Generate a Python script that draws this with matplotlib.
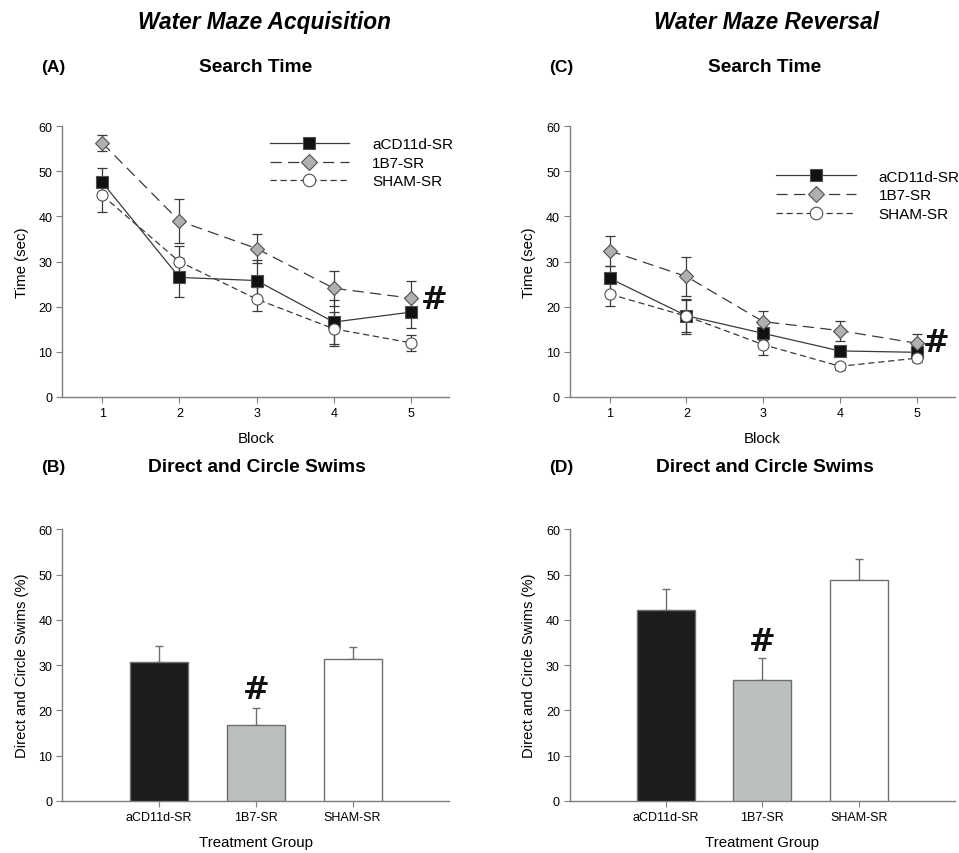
import numpy as np
import matplotlib
matplotlib.use("Agg")
import matplotlib.pyplot as plt
from matplotlib.lines import Line2D

plt.rcParams["font.family"] = ["Liberation Sans", "DejaVu Sans"]

blocks = [1, 2, 3, 4, 5]
groups = ["aCD11d-SR", "1B7-SR", "SHAM-SR"]

# search time (sec), acquisition
acq_mean = {
    "aCD11d-SR": [47.6, 26.5, 25.8, 16.6, 18.8],
    "1B7-SR": [56.3, 39.0, 32.9, 24.1, 21.9],
    "SHAM-SR": [44.7, 30.0, 21.7, 15.1, 12.0],
}
acq_err = {
    "aCD11d-SR": [3.2, 4.4, 4.5, 4.8, 3.6],
    "1B7-SR": [1.7, 4.8, 3.3, 3.9, 3.7],
    "SHAM-SR": [3.8, 3.5, 2.6, 3.7, 1.8],
}

# search time (sec), reversal
rev_mean = {
    "aCD11d-SR": [26.3, 18.0, 14.1, 10.2, 9.9],
    "1B7-SR": [32.4, 26.7, 16.7, 14.7, 11.9],
    "SHAM-SR": [22.8, 17.9, 11.6, 6.8, 8.6],
}
rev_err = {
    "aCD11d-SR": [2.8, 3.5, 1.5, 1.0, 0.8],
    "1B7-SR": [3.3, 4.4, 2.3, 2.2, 2.1],
    "SHAM-SR": [2.7, 3.9, 2.2, 0.8, 0.8],
}

# direct and circle swims (%)
acq_swims = [30.7, 16.7, 31.3]
acq_swims_err = [3.5, 3.9, 2.7]
rev_swims = [42.1, 26.7, 48.7]
rev_swims_err = [4.7, 4.9, 4.8]

styles = {
    "aCD11d-SR": dict(marker="s", mfc="#111111", ls="-", dashes=None),
    "1B7-SR": dict(marker="D", mfc="#b0b0b0", ls="--", dashes=(9, 5)),
    "SHAM-SR": dict(marker="o", mfc="white", ls="--", dashes=(5, 3)),
}
bar_colors = ["#1c1c1c", "#bcc0bc", "white"]
spine_col = "#7f7f7f"
line_col = "#3a3a3a"


def style_axes(ax):
    for s in ["top", "right"]:
        ax.spines[s].set_visible(False)
    for s in ["left", "bottom"]:
        ax.spines[s].set_color(spine_col)
        ax.spines[s].set_linewidth(1.0)
    ax.tick_params(direction="out", length=4, color=spine_col, labelsize=9, pad=3)
    ax.set_ylim(0, 60)
    ax.set_yticks(range(0, 61, 10))


def hash_mark(ax, x, y):
    ax.text(x, y, "#", fontsize=23, fontweight="heavy", family="DejaVu Sans",
            ha="center", va="center", color="#111111")


def line_panel(ax, means, errs, legend_pos, hash_xy):
    for g in groups:
        ax.errorbar(blocks, means[g], yerr=errs[g], fmt="none", ecolor=line_col,
                    elinewidth=0.9, capsize=3.5, capthick=0.9, zorder=2)
    for g in groups:
        st = styles[g]
        ln, = ax.plot(blocks, means[g], color=line_col, lw=0.9, ls=st["ls"],
                      marker=st["marker"], ms=8 if st["marker"] != "D" else 7.5,
                      mfc=st["mfc"], mec="#505050", mew=0.8, zorder=3)
        if st["dashes"]:
            ln.set_dashes(st["dashes"])
    style_axes(ax)
    ax.set_xlim(0.48, 5.5)
    ax.set_xticks(blocks)
    ax.set_xlabel("Block", fontsize=10.8, labelpad=9)
    ax.set_ylabel("Time (sec)", fontsize=10.8, labelpad=7)
    handles = []
    for g in groups:
        st = styles[g]
        h = Line2D([0], [0], color=line_col, lw=0.9, ls=st["ls"], marker=st["marker"],
                   ms=9 if st["marker"] != "D" else 8.5, mfc=st["mfc"], mec="#505050", mew=0.8)
        if st["dashes"]:
            h.set_dashes(st["dashes"])
        handles.append(h)
    ax.legend(handles, groups, loc="upper left", bbox_to_anchor=legend_pos, frameon=False,
              fontsize=11, handlelength=5.2, handletextpad=1.5, labelspacing=0.3)
    hash_mark(ax, hash_xy[0], hash_xy[1])


def bar_panel(ax, vals, errs, hash_y):
    x = np.arange(len(groups))
    ax.bar(x, vals, width=0.6, color=bar_colors, edgecolor="#6e6e6e", linewidth=1.0, zorder=3)
    ax.errorbar(x, vals, yerr=[np.zeros(len(vals)), errs], fmt="none", ecolor="#6e6e6e",
                elinewidth=1.0, capsize=2.8, capthick=1.0, zorder=2)
    style_axes(ax)
    ax.set_xlim(-1, 3)
    ax.set_xticks(x)
    ax.set_xticklabels(groups)
    ax.set_xlabel("Treatment Group", fontsize=10.8, labelpad=9)
    ax.set_ylabel("Direct and Circle Swims (%)", fontsize=10.6, labelpad=7)
    hash_mark(ax, 1, hash_y)


fig = plt.figure(figsize=(9.59, 8.54), dpi=100)
axA = fig.add_axes([0.0647, 0.534, 0.404, 0.317])
axC = fig.add_axes([0.594, 0.534, 0.402, 0.317])
axB = fig.add_axes([0.0647, 0.061, 0.404, 0.318])
axD = fig.add_axes([0.594, 0.061, 0.402, 0.318])

line_panel(axA, acq_mean, acq_err, (0.50, 1.01), (5.3, 21.6))
line_panel(axC, rev_mean, rev_err, (0.50, 0.89), (5.25, 12.1))
bar_panel(axB, acq_swims, acq_swims_err, 24.7)
bar_panel(axD, rev_swims, rev_swims_err, 35.3)

fig.text(0.276, 0.974, "Water Maze Acquisition", fontsize=16.3, fontweight="bold",
         fontstyle="italic", ha="center", va="center")
fig.text(0.799, 0.974, "Water Maze Reversal", fontsize=16.3, fontweight="bold",
         fontstyle="italic", ha="center", va="center")

for lx, tx, y0, lab, title in [(0.056, 0.267, 0.921, "(A)", "Search Time"),
                               (0.585, 0.797, 0.921, "(C)", "Search Time"),
                               (0.056, 0.268, 0.452, "(B)", "Direct and Circle Swims"),
                               (0.585, 0.798, 0.452, "(D)", "Direct and Circle Swims")]:
    fig.text(lx, y0, lab, fontsize=12.5, fontweight="bold", ha="center", va="center")
    fig.text(tx, y0, title, fontsize=13.8, fontweight="bold", ha="center", va="center")

fig.savefig("out.png", dpi=100)
